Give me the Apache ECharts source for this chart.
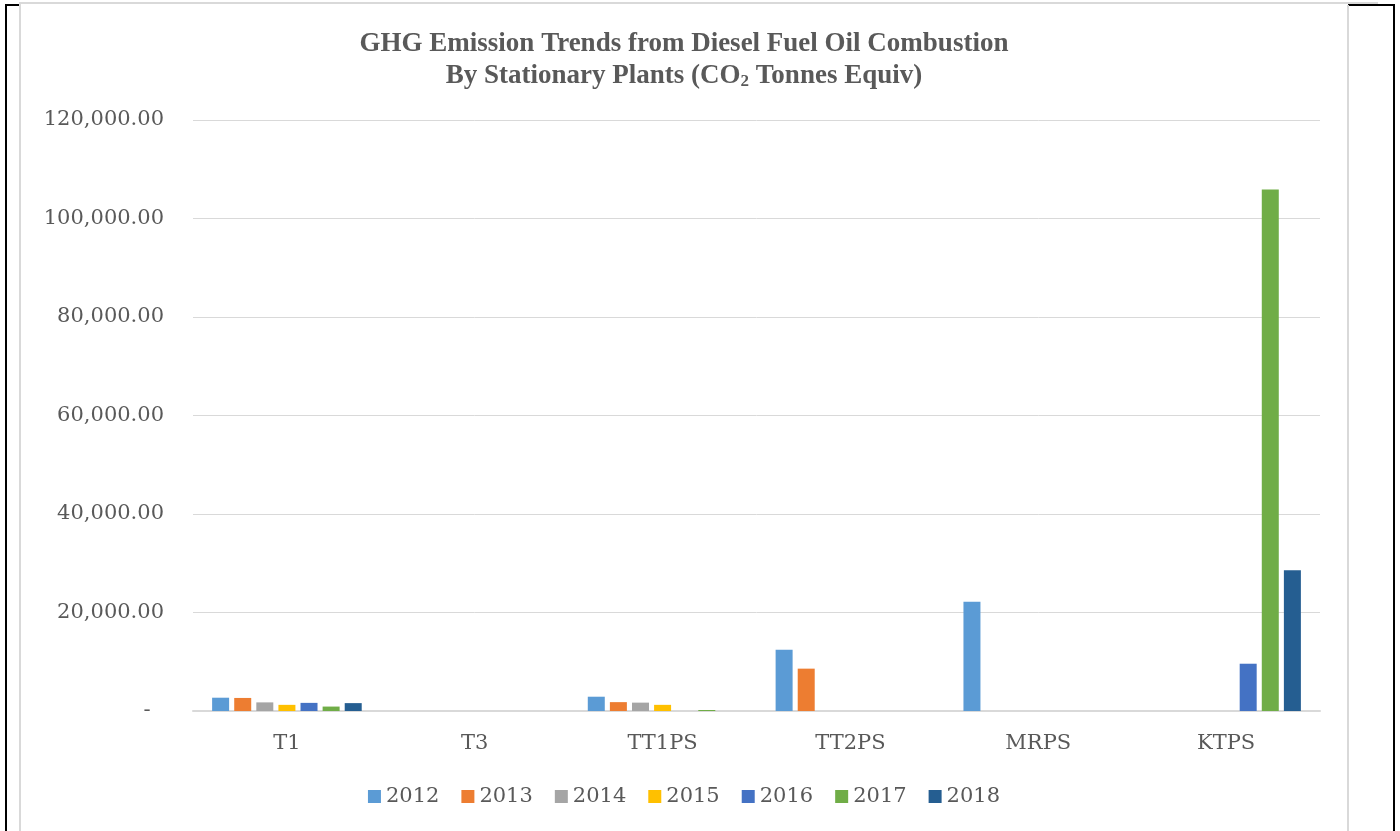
<!DOCTYPE html>
<html>
<head>
<meta charset="utf-8">
<script src="https://cdn.jsdelivr.net/npm/echarts@6/dist/echarts.min.js"></script>
<style>
  html,body{margin:0;padding:0;background:#fff;overflow:hidden;}
  #wrap{position:relative;width:1400px;height:831px;}
  #chart{position:absolute;left:20px;top:0;width:1328px;height:831px;}
  .ln{position:absolute;}
</style>
</head>
<body>
<div id="wrap">
  <div class="ln" style="left:5px;top:4px;width:2px;height:827px;background:#000"></div>
  <div class="ln" style="left:5px;top:4px;width:15px;height:2px;background:#000"></div>
  <div class="ln" style="left:1348px;top:4px;width:47px;height:2px;background:#000"></div>
  <div class="ln" style="left:1393px;top:4px;width:2px;height:827px;background:#000"></div>
  <div class="ln" style="left:19px;top:2px;width:1359px;height:2px;background:#d9d9d9"></div>
  <div class="ln" style="left:19px;top:4px;width:2px;height:827px;background:#d9d9d9"></div>
  <div class="ln" style="left:1347px;top:5px;width:2px;height:826px;background:#d9d9d9"></div>
  <div id="chart"></div>
</div>
<script>
const categories = ['T1', 'T3', 'TT1PS', 'TT2PS', 'MRPS', 'KTPS'];
const years = ['2012', '2013', '2014', '2015', '2016', '2017', '2018'];
const s2012 = [2700, 0, 2900, 12450, 22200, 0];
const s2013 = [2650, 0, 1800, 8600, 0, 0];
const s2014 = [1750, 0, 1700, 0, 0, 0];
const s2015 = [1250, 0, 1250, 0, 0, 0];
const s2016 = [1650, 0, 0, 0, 0, 9600];
const s2017 = [900, 0, 200, 0, 0, 105900];
const s2018 = [1600, 0, 0, 0, 0, 28600];
const yTicks = [0, 20000, 40000, 60000, 80000, 100000, 120000];

const seriesData = [s2012, s2013, s2014, s2015, s2016, s2017, s2018];
const colors = ['#5B9BD5', '#ED7D31', '#A5A5A5', '#FFC000', '#4472C4', '#70AD47', '#255E91'];
const serif = '"DejaVu Serif", serif';
const txt = '#595959';

const chart = echarts.init(document.getElementById('chart'), null, {renderer: 'canvas'});
chart.setOption({
  animation: false,
  color: colors,
  title: {
    text: 'GHG Emission Trends from Diesel Fuel Oil Combustion\nBy Stationary Plants (CO{sub|2} Tonnes Equiv)',
    left: 'center',
    top: 23,
    textStyle: {
      fontFamily: '"Liberation Serif", serif',
      fontWeight: 'bold',
      fontSize: 27,
      lineHeight: 32,
      color: txt,
      rich: {
        sub: {
          fontFamily: '"Liberation Serif", serif',
          fontWeight: 'bold',
          fontSize: 17,
          color: txt,
          lineHeight: 32,
          padding: [12, 0, 0, 0]
        }
      }
    }
  },
  grid: {left: 173, right: 28, top: 120, bottom: 120},
  legend: {
    bottom: 19,
    left: 'center',
    icon: 'rect',
    itemWidth: 13,
    itemHeight: 13,
    itemGap: 22,
    textStyle: {fontFamily: serif, fontSize: 21, color: txt},
    data: years
  },
  xAxis: {
    type: 'category',
    data: categories,
    axisLine: {lineStyle: {color: '#d9d9d9', width: 2}},
    axisTick: {show: false},
    axisLabel: {fontFamily: serif, fontSize: 21, color: txt, margin: 22}
  },
  yAxis: {
    type: 'value',
    min: yTicks[0],
    max: yTicks[yTicks.length - 1],
    interval: yTicks[1] - yTicks[0],
    axisLine: {show: false},
    axisTick: {show: false},
    splitLine: {lineStyle: {color: '#d9d9d9', width: 1}},
    axisLabel: {
      fontFamily: serif, fontSize: 21, color: txt, margin: 29,
      formatter: v => v === 0 ? '-  ' : v.toLocaleString('en-US', {minimumFractionDigits: 2, maximumFractionDigits: 2})
    }
  },
  series: years.map((y, i) => ({
    name: y,
    type: 'bar',
    data: seriesData[i],
    barWidth: 17,
    barGap: '30%'
  }))
});
</script>
</body>
</html>
